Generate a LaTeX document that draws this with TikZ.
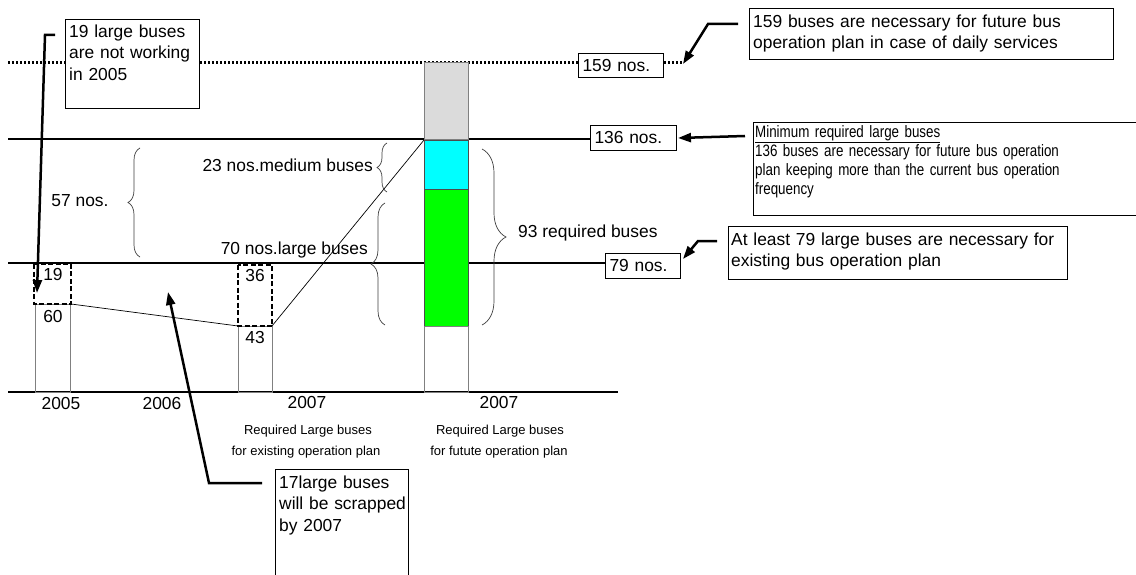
\documentclass[tikz,border=0pt]{standalone}
\usepackage{fontspec}
\setmainfont{Liberation Sans}
\newfontfamily\narrowsans[FakeStretch=0.81]{Liberation Sans}
\usetikzlibrary{arrows.meta,decorations.pathreplacing}

\begin{document}
\begin{tikzpicture}[x=1pt,y=-1pt,
  txt/.style={font=\fontsize{17.4}{21.5}\selectfont, inner sep=0pt},
  small/.style={font=\fontsize{13}{16}\selectfont, inner sep=0pt},
  callout/.style={draw, line width=1.3pt, fill=white, anchor=north west, inner sep=0pt},
  numbox/.style={draw, line width=1pt, fill=white, anchor=north west, inner xsep=4pt, inner ysep=0pt,
    align=left, font=\fontsize{17.4}{21.5}\selectfont},
  level/.style={line width=2.2pt},
  leader/.style={line width=2.5pt, line join=miter, -{Triangle[length=13pt,width=9pt]}},
  barbox/.style={draw=black!50, line width=1pt},
  gapbox/.style={draw=black, line width=2pt, dash pattern=on 5pt off 2.5pt},
  brc/.style={decorate, line width=0.7pt, draw=black!75},
  trend/.style={line width=0.7pt}]

\clip (0,0) rectangle (1136,575);
\fill[white] (0,0) rectangle (1136,575);

% level lines and time axis
\draw[line width=3pt, dash pattern=on 2.4pt off 1.6pt] (8,63) -- (682,63);
\draw[level] (8,139) -- (590,139);
\draw[level] (8,263) -- (605,263);
\draw[line width=1.4pt] (8,392) -- (618,392);

% 2005 bar
\draw[barbox] (35,304) rectangle (70,392);
% 2007 bar (existing plan)
\draw[barbox] (238,326) rectangle (272,392);

% trend lines
\draw[trend] (71,304) -- (238,326);
\draw[trend] (272,326) -- (424,140);

% shortfall boxes
\draw[gapbox] (34,264) rectangle (71,304);
\draw[gapbox] (238,265) rectangle (272,326);

% 2007 column (future plan)
\draw[barbox, fill=black!14] (424,63) rectangle (468,140);
\draw[draw=black!70, line width=0.8pt, fill={rgb,255:red,0;green,255;blue,255}] (424,140) rectangle (468,189);
\draw[draw=black!70, line width=0.8pt, fill={rgb,255:red,0;green,255;blue,0}] (424,189) rectangle (468,326);
\draw[barbox] (424,326) rectangle (468,392);

% bar values
\node[txt] (v19) at (53,275) {19};
\node[txt] (v60) at (53,317) {60};
\node[txt] (v36) at (255,276) {36};
\node[txt] (v43) at (255,338) {43};

% braces
\draw[brc, decoration={brace, amplitude=12pt}] (140,257) -- (140,148);
\draw[brc, decoration={brace, amplitude=10pt}] (387,192) -- (387,143);
\draw[brc, decoration={brace, amplitude=14pt}] (385,325) -- (385,203);
\draw[brc, decoration={brace, amplitude=24pt}] (482,149) -- (482,325);

\node[txt] (l57) at (80,201) {57 nos.};
\node[txt, anchor=base east] (l23) at (373,172) {23 nos.medium buses};
\node[txt, anchor=base east] (l70) at (368,254) {70 nos.large buses};
\node[txt, anchor=base west] (l93) at (518,237) {93 required buses};

% level labels
\node[numbox, text width=77pt, minimum height=24pt] (n159) at (578,53) {159 nos.};
\node[numbox, text width=78pt, minimum height=25pt] (n136) at (590,125) {136 nos.};
\node[numbox, text width=67pt, minimum height=25pt] (n79) at (605,253) {79 nos.};

% years
\node[txt] (y05) at (61,404) {2005};
\node[txt] (y06) at (162,404) {2006};
\node[txt] (y07a) at (307,403) {2007};
\node[txt] (y07b) at (499,403) {2007};
\node[small, anchor=base] (r1a) at (308,434) {Required Large buses};
\node[small, anchor=base] (r1b) at (306,455) {for existing operation plan};
\node[small, anchor=base] (r2a) at (500,434) {Required Large buses};
\node[small, anchor=base] (r2b) at (499,455) {for futute operation plan};

% leader lines
\coordinate (k19a) at (55,35);
\coordinate (k19b) at (45,35);
\coordinate (tip19) at (37,293);
\draw[leader] (k19a) -- (k19b) -- (tip19);

\coordinate (k17a) at (262,483);
\coordinate (k17b) at (209,483);
\coordinate (tip17) at (168,292);
\draw[leader] (k17a) -- (k17b) -- (tip17);

\coordinate (k159a) at (738,24);
\coordinate (k159b) at (708,24);
\coordinate (tip159) at (683,64);
\draw[leader] (k159a) -- (k159b) -- (tip159);

\coordinate (k136a) at (745,136);
\coordinate (tip136) at (678,138);
\draw[leader] (k136a) -- (tip136);

\coordinate (k79a) at (717,241);
\coordinate (k79b) at (698,241);
\coordinate (tip79) at (683,259);
\draw[leader] (k79a) -- (k79b) -- (tip79);

% callout boxes
\node[callout, minimum width=134pt, minimum height=89pt] (b19) at (65,19) {};
\node[txt, anchor=base west, text width=128pt, align=left] (t19) at (69,37.5)
  {19 large buses\\are not working\\in 2005};

\node[callout, minimum width=133pt, minimum height=130pt] (b17) at (275,469) {};
\node[txt, anchor=base west, text width=128pt, align=left] (t17) at (279,488)
  {17large buses\\will be scrapped\\by 2007};

\node[callout, minimum width=364pt, minimum height=51pt] (b159) at (749,8) {};
\node[txt, anchor=base west, text width=355pt, align=left] (t159) at (753,27.5)
  {159 buses are necessary for future bus\\operation plan in case of daily services};

\node[callout, minimum width=400pt, minimum height=93pt] (b136) at (753,122) {};
\node[inner sep=0pt, anchor=base west, text width=380pt, align=left,
  font=\narrowsans\fontsize{16.5}{18.9}\selectfont] (t136) at (755,137.5)
  {\underline{Minimum required large buses}\\136 buses are necessary for future bus operation\\plan keeping more than the current bus operation\\frequency};

\node[callout, minimum width=339pt, minimum height=53pt] (b79) at (728,226) {};
\node[txt, anchor=base west, text width=330pt, align=left] (t79) at (731,245)
  {At least 79 large buses are necessary for\\existing bus operation plan};

\end{tikzpicture}
\end{document}
